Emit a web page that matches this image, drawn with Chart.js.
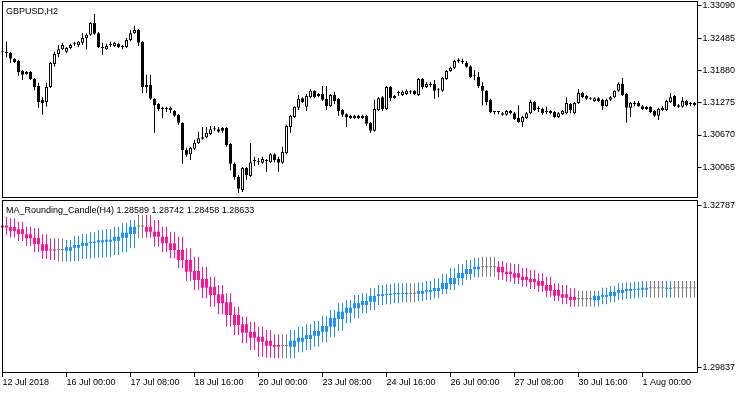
<!DOCTYPE html>
<html>
<head>
<meta charset="utf-8">
<script src="https://cdn.jsdelivr.net/npm/chart.js@4.4.1/dist/chart.umd.min.js"></script>
<style>
  body { margin: 0; background: #fff; }
  #wrap { position: relative; width: 750px; height: 394px; }
  canvas { position: absolute; left: 0; }
</style>
</head>
<body>
<div id="wrap">
  <canvas id="pricePane" width="750" height="200" style="top:0"></canvas>
  <canvas id="maPane" width="750" height="196" style="top:198px"></canvas>
</div>
<script>
// GBPUSD H2 candles: [open, high, low, close]
const gbpusd = [
  [1.3223,1.3225,1.3221,1.3223],[1.3223,1.3242,1.3213,1.3221],[1.3221,1.3223,1.3202,1.3210],[1.3210,1.3211,1.3202,1.3204],
  [1.3206,1.3208,1.3178,1.3185],[1.3187,1.3189,1.3170,1.3180],[1.3181,1.3187,1.3180,1.3185],[1.3185,1.3187,1.3170,1.3172],
  [1.3172,1.3174,1.3151,1.3157],[1.3159,1.3165,1.3118,1.3129],[1.3133,1.3138,1.3105,1.3127],[1.3129,1.3165,1.3120,1.3157],
  [1.3157,1.3204,1.3155,1.3202],[1.3200,1.3223,1.3195,1.3219],[1.3219,1.3236,1.3213,1.3228],[1.3228,1.3240,1.3227,1.3236],
  [1.3223,1.3232,1.3221,1.3230],[1.3230,1.3238,1.3228,1.3236],[1.3238,1.3242,1.3234,1.3238],[1.3236,1.3243,1.3232,1.3242],
  [1.3240,1.3258,1.3236,1.3249],[1.3249,1.3258,1.3227,1.3255],[1.3255,1.3279,1.3253,1.3277],[1.3277,1.3294,1.3255,1.3257],
  [1.3258,1.3260,1.3230,1.3232],[1.3230,1.3240,1.3217,1.3230],[1.3228,1.3238,1.3227,1.3234],[1.3236,1.3242,1.3232,1.3236],
  [1.3234,1.3242,1.3232,1.3240],[1.3238,1.3240,1.3230,1.3232],[1.3232,1.3236,1.3228,1.3232],[1.3232,1.3249,1.3230,1.3245],
  [1.3245,1.3264,1.3243,1.3258],[1.3258,1.3272,1.3257,1.3264],[1.3264,1.3266,1.3234,1.3240],[1.3242,1.3243,1.3146,1.3157],
  [1.3157,1.3180,1.3146,1.3161],[1.3161,1.3180,1.3133,1.3135],[1.3135,1.3136,1.3071,1.3123],[1.3125,1.3127,1.3112,1.3116],
  [1.3116,1.3120,1.3099,1.3116],[1.3116,1.3120,1.3110,1.3116],[1.3114,1.3120,1.3108,1.3118],[1.3112,1.3114,1.3101,1.3103],
  [1.3105,1.3106,1.3086,1.3090],[1.3090,1.3091,1.3013,1.3039],[1.3039,1.3043,1.3026,1.3030],[1.3031,1.3045,1.3020,1.3043],
  [1.3041,1.3058,1.3039,1.3052],[1.3052,1.3073,1.3050,1.3061],[1.3060,1.3082,1.3058,1.3063],[1.3063,1.3082,1.3061,1.3071],
  [1.3069,1.3084,1.3067,1.3078],[1.3078,1.3084,1.3075,1.3078],[1.3078,1.3082,1.3071,1.3073],[1.3080,1.3082,1.3071,1.3075],
  [1.3080,1.3082,1.3045,1.3048],[1.3050,1.3052,1.3001,1.3013],[1.3013,1.3016,1.2983,1.2988],[1.2988,1.2992,1.2958,1.2966],
  [1.2964,1.3007,1.2960,1.3005],[1.3005,1.3007,1.2983,1.2992],[1.2990,1.3052,1.2988,1.3016],[1.3018,1.3026,1.3009,1.3018],
  [1.3016,1.3024,1.3011,1.3016],[1.3015,1.3026,1.3013,1.3022],[1.3018,1.3022,1.2998,1.3018],[1.3016,1.3033,1.3015,1.3031],
  [1.3031,1.3033,1.3016,1.3020],[1.3022,1.3026,1.2998,1.3015],[1.3015,1.3045,1.3013,1.3035],[1.3033,1.3086,1.3031,1.3084],
  [1.3082,1.3105,1.3071,1.3103],[1.3101,1.3121,1.3099,1.3120],[1.3118,1.3142,1.3114,1.3135],[1.3136,1.3138,1.3127,1.3129],
  [1.3120,1.3144,1.3112,1.3140],[1.3138,1.3153,1.3136,1.3150],[1.3150,1.3151,1.3136,1.3138],[1.3144,1.3146,1.3138,1.3140],
  [1.3144,1.3159,1.3131,1.3133],[1.3135,1.3159,1.3114,1.3121],[1.3121,1.3144,1.3120,1.3142],[1.3142,1.3148,1.3125,1.3131],
  [1.3135,1.3136,1.3103,1.3112],[1.3114,1.3116,1.3101,1.3105],[1.3106,1.3108,1.3082,1.3101],[1.3103,1.3105,1.3097,1.3099],
  [1.3099,1.3105,1.3097,1.3103],[1.3103,1.3105,1.3097,1.3099],[1.3103,1.3105,1.3097,1.3099],[1.3103,1.3105,1.3084,1.3088],
  [1.3090,1.3091,1.3071,1.3075],[1.3075,1.3133,1.3073,1.3116],[1.3114,1.3138,1.3112,1.3136],[1.3138,1.3140,1.3112,1.3116],
  [1.3116,1.3159,1.3114,1.3157],[1.3157,1.3159,1.3131,1.3136],[1.3140,1.3142,1.3135,1.3136],[1.3146,1.3150,1.3140,1.3146],
  [1.3142,1.3151,1.3140,1.3148],[1.3144,1.3153,1.3142,1.3150],[1.3148,1.3151,1.3144,1.3148],[1.3150,1.3151,1.3142,1.3144],
  [1.3142,1.3174,1.3140,1.3172],[1.3172,1.3174,1.3153,1.3157],[1.3157,1.3166,1.3155,1.3163],[1.3161,1.3166,1.3157,1.3161],
  [1.3163,1.3170,1.3135,1.3150],[1.3151,1.3155,1.3138,1.3151],[1.3150,1.3176,1.3148,1.3174],[1.3172,1.3189,1.3170,1.3187],
  [1.3187,1.3195,1.3185,1.3193],[1.3193,1.3208,1.3191,1.3206],[1.3206,1.3211,1.3202,1.3206],[1.3204,1.3210,1.3200,1.3204],
  [1.3202,1.3206,1.3193,1.3195],[1.3196,1.3198,1.3174,1.3176],[1.3178,1.3189,1.3170,1.3178],[1.3176,1.3185,1.3155,1.3159],
  [1.3159,1.3166,1.3123,1.3150],[1.3150,1.3151,1.3123,1.3129],[1.3133,1.3135,1.3108,1.3110],[1.3110,1.3112,1.3106,1.3110],
  [1.3110,1.3112,1.3106,1.3110],[1.3105,1.3110,1.3103,1.3108],[1.3105,1.3114,1.3103,1.3112],[1.3112,1.3114,1.3106,1.3108],
  [1.3108,1.3110,1.3095,1.3097],[1.3099,1.3123,1.3090,1.3091],[1.3091,1.3103,1.3082,1.3101],[1.3099,1.3110,1.3097,1.3108],
  [1.3108,1.3133,1.3106,1.3129],[1.3129,1.3131,1.3112,1.3114],[1.3116,1.3121,1.3110,1.3116],[1.3116,1.3118,1.3105,1.3108],
  [1.3110,1.3120,1.3106,1.3110],[1.3112,1.3114,1.3106,1.3108],[1.3110,1.3112,1.3099,1.3101],[1.3101,1.3110,1.3099,1.3108],
  [1.3106,1.3114,1.3105,1.3112],[1.3108,1.3138,1.3106,1.3127],[1.3125,1.3127,1.3108,1.3114],[1.3108,1.3129,1.3106,1.3127],
  [1.3127,1.3153,1.3125,1.3146],[1.3146,1.3148,1.3136,1.3138],[1.3140,1.3142,1.3133,1.3135],[1.3135,1.3138,1.3133,1.3135],
  [1.3131,1.3138,1.3129,1.3136],[1.3136,1.3138,1.3129,1.3131],[1.3133,1.3135,1.3114,1.3121],[1.3121,1.3135,1.3120,1.3133],
  [1.3133,1.3140,1.3131,1.3138],[1.3138,1.3151,1.3136,1.3150],[1.3150,1.3166,1.3148,1.3163],[1.3163,1.3174,1.3140,1.3142],
  [1.3144,1.3146,1.3090,1.3118],[1.3118,1.3129,1.3101,1.3127],[1.3125,1.3131,1.3121,1.3125],[1.3127,1.3131,1.3120,1.3121],
  [1.3121,1.3123,1.3114,1.3116],[1.3120,1.3121,1.3114,1.3116],[1.3120,1.3121,1.3108,1.3110],[1.3112,1.3114,1.3101,1.3103],
  [1.3103,1.3118,1.3095,1.3116],[1.3114,1.3121,1.3112,1.3118],[1.3114,1.3133,1.3112,1.3131],[1.3129,1.3146,1.3127,1.3138],
  [1.3140,1.3142,1.3120,1.3121],[1.3123,1.3125,1.3118,1.3120],[1.3120,1.3138,1.3118,1.3131],[1.3131,1.3133,1.3121,1.3123],
  [1.3125,1.3129,1.3121,1.3125],[1.3127,1.3129,1.3121,1.3123]
];

// MA_Rounding_Candle(H4) drawn on the H2 bars: [open, high, low, close]
const maCandles = [
  [1.32416,1.32575,1.32243,1.32379],[1.32416,1.32575,1.32243,1.32379],
  [1.32389,1.32546,1.32198,1.32316],[1.32389,1.32546,1.32198,1.32316],
  [1.32347,1.32485,1.32135,1.32256],[1.32347,1.32485,1.32135,1.32256],
  [1.32256,1.32394,1.32044,1.32184],[1.32256,1.32394,1.32044,1.32184],
  [1.32195,1.32365,1.31930,1.32075],[1.32195,1.32365,1.31930,1.32075],
  [1.32075,1.32256,1.31808,1.31959],[1.32075,1.32256,1.31808,1.31959],
  [1.31981,1.32184,1.31790,1.31962],[1.31981,1.32184,1.31790,1.31962],
  [1.31972,1.32184,1.31759,1.31972],[1.31972,1.32184,1.31759,1.31972],
  [1.31959,1.32153,1.31759,1.32021],[1.31959,1.32153,1.31759,1.32021],
  [1.32013,1.32225,1.31772,1.32062],[1.32013,1.32225,1.31772,1.32062],
  [1.32050,1.32262,1.31808,1.32104],[1.32050,1.32262,1.31808,1.32104],
  [1.32098,1.32292,1.31821,1.32122],[1.32098,1.32292,1.31821,1.32122],
  [1.32111,1.32334,1.31832,1.32147],[1.32111,1.32334,1.31832,1.32147],
  [1.32122,1.32352,1.31850,1.32158],[1.32122,1.32352,1.31850,1.32158],
  [1.32140,1.32394,1.31881,1.32213],[1.32140,1.32394,1.31881,1.32213],
  [1.32195,1.32456,1.31930,1.32285],[1.32195,1.32456,1.31930,1.32285],
  [1.32262,1.32515,1.32002,1.32394],[1.32262,1.32515,1.32002,1.32394],
  [1.32398,1.32606,1.32184,1.32398],[1.32398,1.32606,1.32184,1.32398],
  [1.32394,1.32606,1.32195,1.32303],[1.32394,1.32606,1.32195,1.32303],
  [1.32303,1.32515,1.32031,1.32213],[1.32303,1.32515,1.32031,1.32213],
  [1.32213,1.32394,1.31930,1.32093],[1.32213,1.32394,1.31930,1.32093],
  [1.32093,1.32303,1.31821,1.31972],[1.32093,1.32303,1.31821,1.31972],
  [1.31972,1.32213,1.31640,1.31790],[1.31972,1.32213,1.31640,1.31790],
  [1.31790,1.32002,1.31415,1.31578],[1.31790,1.32002,1.31415,1.31578],
  [1.31591,1.31850,1.31246,1.31428],[1.31591,1.31850,1.31246,1.31428],
  [1.31446,1.31669,1.31096,1.31288],[1.31446,1.31669,1.31096,1.31288],
  [1.31306,1.31487,1.30944,1.31156],[1.31306,1.31487,1.30944,1.31156],
  [1.31168,1.31337,1.30806,1.31005],[1.31168,1.31337,1.30806,1.31005],
  [1.31023,1.31187,1.30581,1.30793],[1.31023,1.31187,1.30581,1.30793],
  [1.30793,1.30944,1.30430,1.30612],[1.30793,1.30944,1.30430,1.30612],
  [1.30624,1.30762,1.30280,1.30472],[1.30624,1.30762,1.30280,1.30472],
  [1.30490,1.30672,1.30159,1.30381],[1.30490,1.30672,1.30159,1.30381],
  [1.30400,1.30581,1.30037,1.30309],[1.30400,1.30581,1.30037,1.30309],
  [1.30327,1.30521,1.30019,1.30237],[1.30327,1.30521,1.30019,1.30237],
  [1.30249,1.30443,1.30008,1.30218],[1.30249,1.30443,1.30008,1.30218],
  [1.30231,1.30443,1.30008,1.30231],[1.30231,1.30443,1.30008,1.30231],
  [1.30218,1.30521,1.30008,1.30327],[1.30218,1.30521,1.30008,1.30327],
  [1.30309,1.30581,1.30117,1.30381],[1.30309,1.30581,1.30117,1.30381],
  [1.30358,1.30624,1.30159,1.30430],[1.30358,1.30624,1.30159,1.30430],
  [1.30418,1.30684,1.30218,1.30503],[1.30418,1.30684,1.30218,1.30503],
  [1.30490,1.30780,1.30298,1.30594],[1.30490,1.30780,1.30298,1.30594],
  [1.30581,1.30884,1.30400,1.30744],[1.30581,1.30884,1.30400,1.30744],
  [1.30720,1.31005,1.30503,1.30853],[1.30720,1.31005,1.30503,1.30853],
  [1.30835,1.31065,1.30643,1.30925],[1.30835,1.31065,1.30643,1.30925],
  [1.30915,1.31156,1.30733,1.31005],[1.30915,1.31156,1.30733,1.31005],
  [1.30974,1.31187,1.30824,1.31047],[1.30974,1.31187,1.30824,1.31047],
  [1.31034,1.31277,1.30884,1.31138],[1.31034,1.31277,1.30884,1.31138],
  [1.31138,1.31337,1.30974,1.31168],[1.31138,1.31337,1.30974,1.31168],
  [1.31156,1.31350,1.30987,1.31179],[1.31156,1.31350,1.30987,1.31179],
  [1.31168,1.31368,1.31005,1.31192],[1.31168,1.31368,1.31005,1.31192],
  [1.31174,1.31368,1.31023,1.31192],[1.31174,1.31368,1.31023,1.31192],
  [1.31179,1.31368,1.31023,1.31179],[1.31179,1.31368,1.31023,1.31179],
  [1.31179,1.31386,1.31047,1.31228],[1.31179,1.31386,1.31047,1.31228],
  [1.31216,1.31410,1.31065,1.31246],[1.31216,1.31410,1.31065,1.31246],
  [1.31228,1.31458,1.31096,1.31283],[1.31228,1.31458,1.31096,1.31283],
  [1.31264,1.31536,1.31168,1.31373],[1.31264,1.31536,1.31168,1.31373],
  [1.31355,1.31640,1.31246,1.31464],[1.31355,1.31640,1.31246,1.31464],
  [1.31458,1.31718,1.31337,1.31555],[1.31458,1.31718,1.31337,1.31555],
  [1.31536,1.31790,1.31428,1.31627],[1.31536,1.31790,1.31428,1.31627],
  [1.31622,1.31832,1.31477,1.31669],[1.31622,1.31832,1.31477,1.31669],
  [1.31658,1.31850,1.31487,1.31658],[1.31658,1.31850,1.31487,1.31658],
  [1.31658,1.31850,1.31487,1.31658],[1.31658,1.31850,1.31487,1.31658],
  [1.31669,1.31772,1.31428,1.31567],[1.31669,1.31772,1.31428,1.31567],
  [1.31578,1.31730,1.31397,1.31536],[1.31578,1.31730,1.31397,1.31536],
  [1.31549,1.31718,1.31355,1.31469],[1.31549,1.31718,1.31355,1.31469],
  [1.31487,1.31651,1.31306,1.31428],[1.31487,1.31651,1.31306,1.31428],
  [1.31446,1.31609,1.31264,1.31386],[1.31446,1.31609,1.31264,1.31386],
  [1.31410,1.31549,1.31216,1.31324],[1.31410,1.31549,1.31216,1.31324],
  [1.31337,1.31487,1.31125,1.31234],[1.31337,1.31487,1.31125,1.31234],
  [1.31246,1.31368,1.31047,1.31143],[1.31246,1.31368,1.31047,1.31143],
  [1.31168,1.31337,1.30987,1.31107],[1.31168,1.31337,1.30987,1.31107],
  [1.31125,1.31277,1.30944,1.31065],[1.31125,1.31277,1.30944,1.31065],
  [1.31078,1.31228,1.30944,1.31078],[1.31078,1.31228,1.30944,1.31078],
  [1.31078,1.31228,1.30944,1.31078],[1.31078,1.31228,1.30944,1.31078],
  [1.31065,1.31228,1.30944,1.31138],[1.31065,1.31228,1.30944,1.31138],
  [1.31125,1.31288,1.30987,1.31156],[1.31125,1.31288,1.30987,1.31156],
  [1.31138,1.31319,1.31023,1.31210],[1.31138,1.31319,1.31023,1.31210],
  [1.31197,1.31368,1.31065,1.31246],[1.31197,1.31368,1.31065,1.31246],
  [1.31228,1.31386,1.31083,1.31264],[1.31228,1.31386,1.31083,1.31264],
  [1.31252,1.31397,1.31096,1.31264],[1.31252,1.31397,1.31096,1.31264],
  [1.31252,1.31410,1.31114,1.31288],[1.31252,1.31410,1.31114,1.31288],
  [1.31277,1.31410,1.31107,1.31277],[1.31277,1.31410,1.31107,1.31277],
  [1.31277,1.31410,1.31107,1.31277],[1.31277,1.31410,1.31107,1.31277],
  [1.31270,1.31410,1.31107,1.31283],[1.31270,1.31410,1.31107,1.31283],
  [1.31277,1.31410,1.31107,1.31277],[1.31277,1.31410,1.31107,1.31277],
  [1.31277,1.31410,1.31107,1.31277],[1.31277,1.31410,1.31107,1.31277],
  [1.31277,1.31410,1.31107,1.31277],[1.31277,1.31410,1.31107,1.31277]
];

// time labels, one every 16 H2 bars
const tickDates = ['12 Jul 2018', '16 Jul 00:00', '17 Jul 08:00', '18 Jul 16:00', '20 Jul 00:00', '23 Jul 08:00',
                   '24 Jul 16:00', '26 Jul 00:00', '27 Jul 08:00', '30 Jul 16:00', '1 Aug 00:00'];
const barsPerTick = 16;
const priceTicks = [1.33090, 1.32485, 1.31880, 1.31275, 1.30670, 1.30065];
const maTicks = [1.32787, 1.29837];

const barLabels = gbpusd.map((_, i) => (i % barsPerTick === 0 && tickDates[i / barsPerTick]) || '');

Chart.defaults.font.family = '"Liberation Sans", Arial, sans-serif';
Chart.defaults.font.size = 9;
Chart.defaults.color = '#000';

// frame around each pane + the pane caption
const paneFrame = {
  id: 'paneFrame',
  afterDraw(chart, args, opts) {
    const { ctx, chartArea: a } = chart;
    ctx.save();
    ctx.strokeStyle = '#000';
    ctx.lineWidth = 1;
    ctx.strokeRect(a.left + 2, a.top - 0.5, a.right - a.left - 1, a.bottom - a.top + 1);
    ctx.fillStyle = '#000';
    ctx.font = '9px "Liberation Sans", Arial, sans-serif';
    ctx.fillText(opts.text, 6, a.top + 12);
    ctx.restore();
  }
};

function priceAxis(min, max, ticks) {
  return {
    position: 'right',
    min: min,
    max: max,
    afterBuildTicks: s => { s.ticks = ticks.map(v => ({ value: v })); },
    afterFit: s => { s.width = 53.5; s.paddingTop = 0; s.paddingBottom = 0; },
    grid: { drawOnChartArea: false, tickLength: 5, color: '#000' },
    border: { display: false },
    ticks: { padding: 1, callback: v => v.toFixed(5) }
  };
}

const common = {
  responsive: false,
  animation: false,
  devicePixelRatio: 1,
  events: []
};

// --- top pane: price candles ---
const upOrDown = c => {
  if (c.dataIndex === undefined) return '#000';
  const r = gbpusd[c.dataIndex];
  return r[3] >= r[0] ? '#fff' : '#000';
};

new Chart(document.getElementById('pricePane'), {
  type: 'bar',
  data: {
    labels: barLabels,
    datasets: [
      { data: gbpusd.map(r => [r[2], r[1]]), barThickness: 1, backgroundColor: '#000', borderWidth: 0,
        minBarLength: 1, grouped: false, inflateAmount: 0, order: 2 },
      { data: gbpusd.map(r => [r[0], r[3]]), barThickness: 3, backgroundColor: upOrDown, borderColor: '#000',
        borderWidth: 1, borderSkipped: false, minBarLength: 1, grouped: false, inflateAmount: 0, order: 1 }
    ]
  },
  options: {
    ...common,
    layout: { padding: { left: 0.5, right: 0, top: 2, bottom: 3 } },
    plugins: { legend: { display: false }, tooltip: { enabled: false }, paneFrame: { text: 'GBPUSD,H2' } },
    scales: {
      x: { display: false },
      y: priceAxis(1.29507, 1.33165, priceTicks)
    }
  },
  plugins: [paneFrame]
});

// --- bottom pane: MA_Rounding_Candle ---
const maColor = c => {
  if (c.dataIndex === undefined) return '#808080';
  const r = maCandles[c.dataIndex];
  if (r[3] > r[0]) return '#1E90FF';
  if (r[3] < r[0]) return '#FF1493';
  return '#808080';
};

new Chart(document.getElementById('maPane'), {
  type: 'bar',
  data: {
    labels: barLabels,
    datasets: [
      { data: maCandles.map(r => [r[2], r[1]]), barThickness: 1, backgroundColor: maColor, borderWidth: 0,
        minBarLength: 1, grouped: false, inflateAmount: 0, order: 2 },
      { data: maCandles.map(r => [r[0], r[3]]), barThickness: 3, backgroundColor: maColor, borderWidth: 0,
        minBarLength: 1, grouped: false, inflateAmount: 0, order: 1 }
    ]
  },
  options: {
    ...common,
    layout: { padding: { left: 0.5, right: 0, top: 3, bottom: 0 } },
    plugins: {
      legend: { display: false }, tooltip: { enabled: false },
      paneFrame: { text: 'MA_Rounding_Candle(H4) 1.28589 1.28742 1.28458 1.28633' }
    },
    scales: {
      x: {
        afterBuildTicks: s => { s.ticks = s.ticks.filter(t => barLabels[t.value] !== ''); },
        afterFit: s => { s.height = 22; s.paddingLeft = 0; s.paddingRight = 0; },
        grid: { drawOnChartArea: false, offset: false, tickLength: 5, color: '#000' },
        border: { display: false },
        ticks: { autoSkip: false, maxRotation: 0, minRotation: 0, align: 'start', padding: 0 }
      },
      y: priceAxis(1.29760, 1.32860, maTicks)
    }
  },
  plugins: [paneFrame]
});
</script>
</body>
</html>
